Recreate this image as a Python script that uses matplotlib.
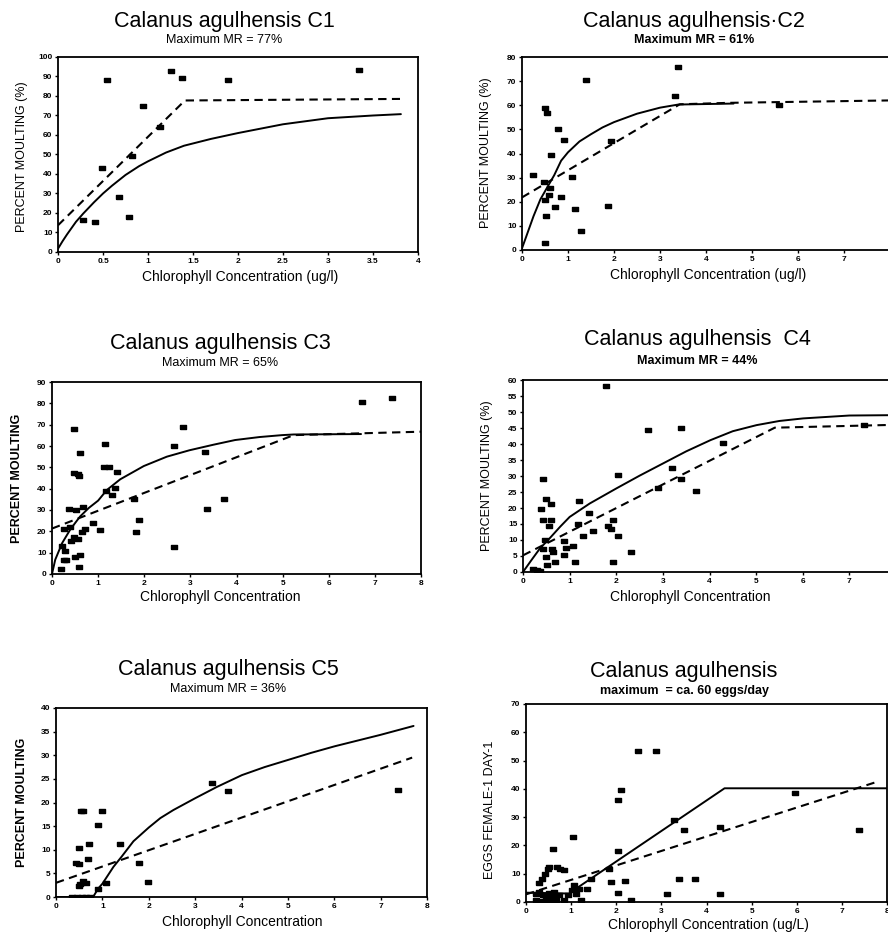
import numpy as np
import matplotlib
matplotlib.use("Agg")
import matplotlib.pyplot as plt

plt.rcParams['font.family'] = ['Liberation Sans', 'DejaVu Sans']

W, H = 888, 936

# --- C1 ---
c1_x = [0.28, 0.41, 0.49, 0.54, 0.68, 0.79, 0.82, 0.94, 1.13, 1.25, 1.38, 1.89, 3.34]
c1_y = [16.3, 15.4, 43, 88, 28, 18, 49, 75, 64, 93, 89, 88, 93.5]
c1_dash_x = [0, 1.41, 3.8]
c1_dash_y = [13.7, 77.7, 78.5]
c1_fit_x = [0, 0.05, 0.1, 0.2, 0.28, 0.4, 0.5, 0.6, 0.75, 0.9, 1.0, 1.2, 1.4,
            1.7, 2.0, 2.5, 3.0, 3.5, 3.81]
c1_fit_y = [1.7, 5.5, 9, 15.5, 19.7, 25.5, 30, 34, 39.5, 44, 46.5, 51, 54.5,
            58, 61, 65.5, 68.6, 70, 70.7]

# --- C2 ---
c2_x = [0.23, 0.47, 0.49, 0.54, 0.51, 0.58, 0.53, 0.49, 0.61, 0.63, 0.71, 0.79,
        0.84, 0.92, 1.08, 1.16, 1.28, 1.39, 1.88, 1.93, 3.32, 3.39, 5.58]
c2_y = [31, 28, 58.9, 56.8, 20.7, 22.8, 14, 3, 25.5, 39.3, 18, 50,
        22, 45.8, 30.3, 17, 8, 70.3, 18.2, 45.2, 63.9, 75.9, 60]
c2_dash_x = [0, 3.43, 4.5, 8]
c2_dash_y = [21.8, 60.4, 61, 62]
c2_fit_x = [0, 0.1, 0.25, 0.4, 0.55, 0.7, 0.85, 1.0, 1.25, 1.5, 1.75, 2.0, 2.5,
            3.0, 3.4, 4.6]
c2_fit_y = [0.7, 6, 14, 21, 26, 31, 37, 40.5, 45, 48, 50.8, 53, 56.5,
            59, 60.3, 60.7]

# --- C3 ---
c3_x = [0.2, 0.25, 0.31, 0.22, 0.27, 0.29, 0.36, 0.40, 0.41, 0.47, 0.48, 0.51,
        0.48, 0.56, 0.58, 0.56, 0.58, 0.61, 0.6, 0.49, 0.65, 0.67, 0.72, 0.89,
        1.03, 1.14, 1.12, 1.23, 1.16, 1.29, 1.37, 1.42, 1.77, 1.83, 1.88, 2.65,
        2.65, 2.84, 3.31, 3.37, 3.72, 6.72, 7.37]
c3_y = [2.3, 6.4, 6.4, 13, 21, 10.6, 30.5, 21.8, 15.7, 68.2, 47.2, 30,
        17.3, 46.9, 46, 16.4, 3.1, 56.5, 9, 7.9, 19.5, 31.6, 21, 24.1,
        20.4, 60.9, 50, 50, 39, 37, 40.2, 48, 35.2, 19.5, 25.4, 12.5,
        60, 69, 57.3, 30.4, 35.2, 80.5, 82.7]
c3_dash_x = [0, 5.24, 8]
c3_dash_y = [21.3, 65.1, 66.7]
c3_fit_x = [0, 0.07, 0.22, 0.4, 0.61, 0.8, 1.0, 1.19, 1.48, 1.99, 2.49, 2.98,
            3.5, 3.97, 4.5, 4.99, 5.24, 6.7]
c3_fit_y = [0, 6.7, 14.5, 21, 27, 31, 34.4, 39.4, 44.4, 50.6, 55, 58,
            60.6, 62.8, 64.2, 65.1, 65.4, 65.6]

# --- C4 ---
c4_x = [0.21, 0.36, 0.29, 0.39, 0.43, 0.43, 0.49, 0.5, 0.52, 0.56, 0.59, 0.61,
        0.63, 0.64, 0.68, 0.43, 0.47, 0.89, 0.92, 0.89, 1.11, 1.07, 1.2, 1.18,
        1.29, 1.41, 1.5, 1.79, 1.83, 1.92, 1.88, 1.92, 2.03, 2.03, 2.31, 2.68,
        2.9, 3.2, 3.38, 3.38, 3.72, 4.28, 7.32]
c4_y = [1, 0.3, 0.5, 19.8, 29, 16.2, 22.7, 4.7, 2.1, 14.3, 16.2, 21.4,
        7.3, 6.3, 3.1, 7.3, 9.9, 9.7, 7.6, 5.2, 3.1, 8, 22.1, 15.1,
        11.2, 18.5, 12.8, 58.1, 14.3, 16.2, 13.3, 3.1, 30.3, 11.3, 6.3, 44.4,
        26.3, 32.4, 44.9, 29.2, 25.4, 40.4, 45.8]
c4_dash_x = [0, 5.4, 8]
c4_dash_y = [5.2, 45.1, 46]
c4_fit_x = [0, 0.18, 0.36, 0.57, 0.8, 1.0, 1.43, 2.0, 2.5, 3.0, 3.5, 4.02,
            4.5, 5.01, 5.5, 6.01, 7.0, 7.84]
c4_fit_y = [0, 3.7, 7.3, 10.5, 14.2, 17.2, 21.4, 26.1, 30.1, 33.9, 37.7, 41.2,
            44, 45.9, 47.2, 48, 48.9, 49]

# --- C5 ---
c5_x = [0.34, 0.45, 0.55, 0.65, 0.73, 0.43, 0.49, 0.5, 0.54, 0.58, 0.49, 0.52,
        0.58, 0.65, 0.70, 0.72, 0.9, 0.9, 0.99, 1.08, 1.38, 1.8, 1.99, 3.36,
        3.71, 7.37]
c5_y = [0, 0, 0, 0, 0, 7.1, 6.9, 10.3, 18.2, 18.2, 2.3, 2.8,
        3.4, 3, 8.1, 11.3, 1.6, 15.2, 18.2, 3, 11.3, 7.2, 3.2, 24.2,
        22.4, 22.7]
c5_dash_x = [0, 7.68]
c5_dash_y = [3, 29.5]
c5_fit_x = [0.0, 0.8, 0.91, 1.0, 1.24, 1.42, 1.67, 2.0, 2.25, 2.53, 3.0, 3.47,
            4.01, 4.5, 5.0, 5.5, 6.01, 6.5, 6.99, 7.71]
c5_fit_y = [0, 0, 1.8, 2.8, 6.4, 8.6, 11.8, 14.7, 16.7, 18.4, 20.9, 23.3,
            25.8, 27.5, 29, 30.5, 31.9, 33.1, 34.3, 36.2]

# --- eggs ---
eg_x = [0.29, 0.35, 0.43, 0.48, 0.52, 0.6, 0.68, 0.75, 0.85, 0.22, 0.29, 0.37,
        0.44, 0.52, 0.59, 0.63, 0.74, 0.22, 0.37, 0.52, 0.66, 0.85, 0.92, 1.03,
        1.07, 1.11, 1.17, 1.05, 1.22, 1.36, 1.44, 1.84, 1.88, 2.03, 2.04, 2.04,
        2.1, 2.19, 2.32, 2.49, 2.89, 3.13, 3.27, 3.5, 3.39, 3.75, 4.31, 4.31,
        5.97, 7.39]
eg_y = [6.7, 8.3, 10, 11.8, 12.4, 18.9, 12.4, 11.8, 11.2, 3, 3.5, 2.4,
        1.8, 3.2, 1.8, 3.5, 2.4, 0.6, 0.4, 0.6, 0.6, 0.6, 2.4, 4.1,
        5.9, 2.7, 4.7, 23, 0.6, 4.7, 8.3, 11.5, 7.1, 18.1, 3.2, 36,
        39.6, 7.4, 0.6, 53.4, 53.4, 2.7, 29, 25.4, 8.3, 8.3, 26.6, 2.7,
        38.4, 25.4]
eg_dash_x = [0, 7.8]
eg_dash_y = [2.7, 42.6]
eg_fit_x = [0, 0.95, 4.4, 8]
eg_fit_y = [3.3, 3.0, 40.2, 40.2]

rect = [(-1, -0.55), (1, -0.55), (1, 0.55), (-1, 0.55), (-1, -0.55)]


def panel(box, xs, ys, dx, dy, fx, fy, xlim, ylim, xt, yt, xtl=None):
    l, t, r, b = box
    ax = fig.add_axes([l / W, 1 - b / H, (r - l) / W, (b - t) / H])
    ax.plot(fx, fy, color='black', lw=1.4, solid_capstyle='round')
    ax.plot(dx, dy, color='black', lw=1.5, dashes=(4, 2.6))
    ax.plot(xs, ys, linestyle='none', marker=rect, ms=4.6, color='black')
    ax.set_xlim(*xlim)
    ax.set_ylim(*ylim)
    ax.set_xticks(xt)
    if xtl is not None:
        ax.set_xticklabels(xtl)
    ax.set_yticks(yt)
    ax.tick_params(direction='out', length=2.5, width=1, labelsize=6, pad=1.5)
    for lab in ax.get_xticklabels() + ax.get_yticklabels():
        lab.set_fontweight('bold')
    for s in ax.spines.values():
        s.set_linewidth(1.3)
    return ax


def label(x, y, s, size, rot=0, weight='normal'):
    fig.text(x / W, 1 - y / H, s, fontsize=size, rotation=rot, ha='center', va='center',
             fontweight=weight)


fig = plt.figure(figsize=(W / 100, H / 100), dpi=100)

t8 = list(range(9))
t7 = list(range(8))

panel((58, 57, 418, 252), c1_x, c1_y, c1_dash_x, c1_dash_y, c1_fit_x, c1_fit_y,
      (0, 4), (0, 100), np.arange(0, 4.01, 0.5), range(0, 101, 10),
      ['0', '0.5', '1', '1.5', '2', '2.5', '3', '3.5', '4'])
panel((522, 57, 890, 250), c2_x, c2_y, c2_dash_x, c2_dash_y, c2_fit_x, c2_fit_y,
      (0, 8), (0, 80), t7, range(0, 81, 10))
panel((52, 382, 421, 574), c3_x, c3_y, c3_dash_x, c3_dash_y, c3_fit_x, c3_fit_y,
      (0, 8), (0, 90), t8, range(0, 91, 10))
panel((523, 380, 896, 572), c4_x, c4_y, c4_dash_x, c4_dash_y, c4_fit_x, c4_fit_y,
      (0, 8), (0, 60), t7, range(0, 61, 5))
panel((56, 708, 427, 897), c5_x, c5_y, c5_dash_x, c5_dash_y, c5_fit_x, c5_fit_y,
      (0, 8), (0, 40), t8, range(0, 41, 5))
panel((526, 704, 887, 902), eg_x, eg_y, eg_dash_x, eg_dash_y, eg_fit_x, eg_fit_y,
      (0, 8), (0, 70), t8, range(0, 71, 10))

# titles
label(224, 22, 'Calanus agulhensis C1', 15.5)
label(224, 40, 'Maximum MR = 77%', 9)
label(694, 22, 'Calanus agulhensis\u00b7C2', 15.5)
label(694, 40, 'Maximum MR = 61%', 9, weight='bold')
label(220, 344, 'Calanus agulhensis C3', 15.5)
label(220, 363, 'Maximum MR = 65%', 9)
label(697, 340, 'Calanus agulhensis  C4', 15.5)
label(697, 361, 'Maximum MR = 44%', 9, weight='bold')
label(228, 670, 'Calanus agulhensis C5', 15.5)
label(228, 689, 'Maximum MR = 36%', 9)
label(684, 672, 'Calanus agulhensis', 15.5)
label(684, 691, 'maximum  = ca. 60 eggs/day', 9, weight='bold')

# axis labels
label(240, 277, 'Chlorophyll Concentration (ug/l)', 10)
label(708, 275, 'Chlorophyll Concentration (ug/l)', 10)
label(220, 597, 'Chlorophyll Concentration', 10)
label(690, 597, 'Chlorophyll Concentration', 10)
label(242, 922, 'Chlorophyll Concentration', 10)
label(708, 925, 'Chlorophyll Concentration (ug/L)', 10)

label(22, 157, 'PERCENT MOULTING (%)', 9, rot=90)
label(486, 153, 'PERCENT MOULTING (%)', 9, rot=90)
label(17, 478, 'PERCENT MOULTING', 9, rot=90, weight='bold')
label(487, 476, 'PERCENT MOULTING (%)', 9, rot=90)
label(22, 802, 'PERCENT MOULTING', 9, rot=90, weight='bold')
label(490, 810, 'EGGS FEMALE-1 DAY-1', 9, rot=90)

fig.savefig('out.png', dpi=100)
